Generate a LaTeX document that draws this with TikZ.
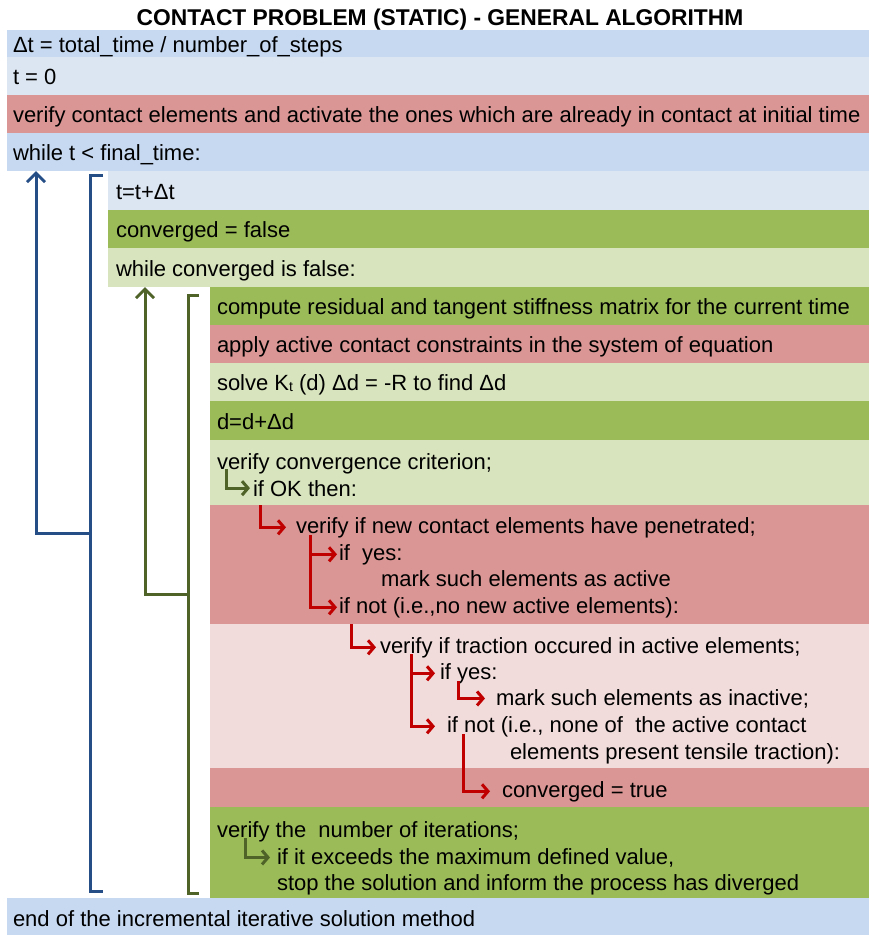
\documentclass[tikz,border=0pt]{standalone}
\usepackage{fontspec}
\setmainfont{Liberation Sans}
\usetikzlibrary{arrows.meta}

\definecolor{blueA}{RGB}{198,217,241}
\definecolor{blueB}{RGB}{220,230,242}
\definecolor{redA}{RGB}{217,150,148}
\definecolor{redB}{RGB}{242,220,219}
\definecolor{greenA}{RGB}{155,187,89}
\definecolor{greenB}{RGB}{215,228,189}
\definecolor{loopblue}{RGB}{37,78,135}
\definecolor{loopgreen}{RGB}{79,98,40}
\definecolor{arrred}{RGB}{192,0,0}

\tikzset{
  band/.style={anchor=north west, inner sep=0pt, outer sep=0pt, minimum width=#1},
  txt/.style={anchor=base west, inner sep=0pt, outer sep=0pt, font=\fontsize{22}{26}\selectfont},
  rarr/.style={draw=arrred, line width=3pt, -{Straight Barb[length=6pt,width=14pt]}},
  garr/.style={draw=loopgreen, line width=3pt, -{Straight Barb[length=6pt,width=14pt]}},
  loopline/.style={line width=3pt},
  looparr/.style={line width=3pt, -{Straight Barb[length=9pt,width=18pt]}}
}

\begin{document}
\begin{tikzpicture}[x=1pt,y=-1pt]
\useasboundingbox (0,0) rectangle (869,935);

% background bands
\node[band=862pt, minimum height=27pt, fill=blueA]  (r1)  at (7,30)   {};
\node[band=862pt, minimum height=38pt, fill=blueB]  (r2)  at (7,57)   {};
\node[band=862pt, minimum height=38pt, fill=redA]   (r3)  at (7,95)   {};
\node[band=862pt, minimum height=38pt, fill=blueA]  (r4)  at (7,133)  {};
\node[band=761pt, minimum height=39pt, fill=blueB]  (r5)  at (108,171) {};
\node[band=761pt, minimum height=38pt, fill=greenA] (r6)  at (108,210) {};
\node[band=761pt, minimum height=39pt, fill=greenB] (r7)  at (108,248) {};
\node[band=659pt, minimum height=38pt, fill=greenA] (r8)  at (210,287) {};
\node[band=659pt, minimum height=38pt, fill=redA]   (r9)  at (210,325) {};
\node[band=659pt, minimum height=38pt, fill=greenB] (r10) at (210,363) {};
\node[band=659pt, minimum height=39pt, fill=greenA] (r11) at (210,401) {};
\node[band=659pt, minimum height=65pt, fill=greenB] (r12) at (210,440) {};
\node[band=659pt, minimum height=119pt, fill=redA]  (r13) at (210,505) {};
\node[band=659pt, minimum height=144pt, fill=redB]  (r14) at (210,624) {};
\node[band=659pt, minimum height=39pt, fill=redA]   (r15) at (210,768) {};
\node[band=659pt, minimum height=91pt, fill=greenA] (r16) at (210,807) {};
\node[band=862pt, minimum height=37pt, fill=blueA]  (r17) at (7,898)  {};

% texts
\node[anchor=base, inner sep=0pt, font=\bfseries\fontsize{22.8}{26}\selectfont] (title) at (440,25)
  {CONTACT PROBLEM (STATIC) - GENERAL ALGORITHM};
\node[txt] (t1)  at (13,52)   {Δt = total\_time\ / number\_of\_steps};
\node[txt] (t2)  at (13,84)   {t = 0};
\node[txt] (t3)  at (13,122)  {verify contact elements and activate the ones which are already in contact at initial time};
\node[txt] (t4)  at (13,160)  {while t < final\_time:};
\node[txt] (t5)  at (116,199) {t=t+Δt};
\node[txt] (t6)  at (116,237) {converged = false};
\node[txt] (t7)  at (116,276) {while converged is false:};
\node[txt] (t8)  at (217,314) {compute residual and tangent stiffness matrix for the current time};
\node[txt] (t9)  at (217,352) {apply active contact constraints in the system of equation};
\node[txt] (t10) at (217,390) {solve K\raisebox{-1pt}{\fontsize{14}{14}\selectfont t} (d) Δd = -R to find Δd};
\node[txt] (t11) at (217,429) {d=d+Δd};
\node[txt] (c1)  at (217,469) {verify convergence criterion;};
\node[txt] (c2)  at (253,496) {if OK then:};
\node[txt] (n1)  at (296,533) {verify if new contact elements have penetrated;};
\node[txt] (n2)  at (339,560) {if\ \ yes:};
\node[txt] (n3)  at (381,586) {mark such elements as active};
\node[txt] (n4)  at (339,613) {if not (i.e.,no new active elements):};
\node[txt] (m1)  at (380,653) {verify if traction occured in active elements;};
\node[txt] (m2)  at (440,679) {if yes:};
\node[txt] (m3)  at (496,705) {mark such elements as inactive;};
\node[txt] (m4)  at (447,732) {if not (i.e., none of\ \ the active contact};
\node[txt] (m5)  at (510,759) {elements present tensile traction):};
\node[txt] (v1)  at (502,797) {converged = true};
\node[txt] (k1)  at (217,837) {verify the\ \ number of iterations;};
\node[txt] (k2)  at (277,864) {if it exceeds the maximum defined value,};
\node[txt] (k3)  at (277,890) {stop the solution and inform the process has diverged};
\node[txt] (t17) at (13,926)  {end of the incremental iterative solution method};

% branch arrows
\coordinate (a1) at (226,469);
\coordinate (a2) at (260,505);
\coordinate (a3) at (310,535);
\coordinate (a4) at (351,624);
\coordinate (a5) at (411,654);
\coordinate (a6) at (458,681);
\coordinate (a7) at (463,734);
\coordinate (a8) at (245,838);
\draw[garr, shorten >=3pt] (a1) |- (c2.west);
\draw[rarr, shorten >=10pt] (a2) |- (n1.west);
\draw[rarr, shorten >=2pt] (a3) |- (n2.west);
\draw[rarr, shorten >=2pt] (a3) |- (n4.west);
\draw[rarr, shorten >=4pt] (a4) |- (m1.west);
\draw[rarr, shorten >=5pt] (a5) |- (m2.west);
\draw[rarr, shorten >=12pt] (a5) |- (m4.west);
\draw[rarr, shorten >=11pt] (a6) |- (m3.west);
\draw[rarr, shorten >=12pt] (a7) |- (v1.west);
\draw[garr, shorten >=7pt] (a8) |- (k2.west);

% outer loop (time steps)
\draw[loopline, draw=loopblue] (103,175) -- (90,175) -- (90,891) -- (103,891);
\coordinate (bj) at (90,533);
\coordinate (bx) at (36,533);
\draw[looparr, draw=loopblue] (bj) -- (bx) -- (bx |- r4.south);

% inner loop (iterations)
\draw[loopline, draw=loopgreen] (199,295) -- (188,295) -- (188,893) -- (199,893);
\coordinate (gj) at (188,594);
\coordinate (gx) at (145,594);
\draw[looparr, draw=loopgreen] (gj) -- (gx) -- (gx |- r7.south);
\end{tikzpicture}
\end{document}
